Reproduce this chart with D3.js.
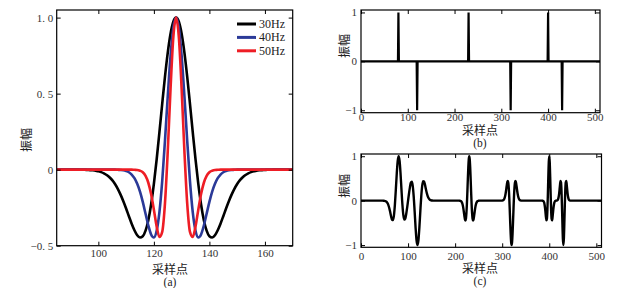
<!DOCTYPE html>
<html>
<head>
<meta charset="utf-8">
<script src="https://cdn.jsdelivr.net/npm/d3@7"></script>
<style>
  body { margin: 0; background: #fff; }
  text { font-family: "Liberation Serif", "Times New Roman", serif; }
  .cjk { font-family: "Noto Sans CJK SC", sans-serif; }
</style>
</head>
<body>
<div id="chart-container"></div>
<script>
// panel (a): wavelets, sample index 85..170
const waveSamples = d3.range(85, 171);
const wave30 = [0, 0, 0, 0, 0, 0, 0, 0, 0,
    -0.001, -0.001, -0.002, -0.003, -0.004, -0.007, -0.010, -0.016, -0.024, -0.035,
    -0.050, -0.069, -0.094, -0.126, -0.164, -0.207, -0.255, -0.306, -0.355, -0.398,
    -0.431, -0.446, -0.438, -0.401, -0.332, -0.229, -0.094, 0.067, 0.247, 0.433,
    0.612, 0.770, 0.894, 0.973, 1.000, 0.973, 0.894, 0.770, 0.612, 0.433,
    0.247, 0.067, -0.094, -0.229, -0.332, -0.401, -0.438, -0.446, -0.431, -0.398,
    -0.355, -0.306, -0.255, -0.207, -0.164, -0.126, -0.094, -0.069, -0.050, -0.035,
    -0.024, -0.016, -0.010, -0.007, -0.004, -0.003, -0.002, -0.001, -0.001,
    0, 0, 0, 0, 0, 0, 0, 0];
const wave40 = [0, 0, 0, 0, 0, 0, 0, 0, 0, 0, 0, 0, 0, 0, 0, 0, 0, 0, 0, 0, 0, 0,
    -0.001, -0.002, -0.004, -0.009, -0.017, -0.032, -0.056, -0.093, -0.145, -0.212,
    -0.290, -0.367, -0.426, -0.446, -0.402, -0.279, -0.075, 0.192, 0.483, 0.748,
    0.933, 1.000, 0.933, 0.748, 0.483, 0.192, -0.075, -0.279, -0.402, -0.446,
    -0.426, -0.367, -0.290, -0.212, -0.145, -0.093, -0.056, -0.032, -0.017, -0.009,
    -0.004, -0.002, -0.001,
    0, 0, 0, 0, 0, 0, 0, 0, 0, 0, 0, 0, 0, 0, 0, 0, 0, 0, 0, 0, 0];
const wave50 = [0, 0, 0, 0, 0, 0, 0, 0, 0, 0, 0, 0, 0, 0, 0, 0, 0, 0, 0, 0, 0, 0, 0, 0, 0, 0, 0, 0,
    -0.001, -0.002, -0.007, -0.017, -0.041, -0.086, -0.160, -0.263, -0.373, -0.443,
    -0.409, -0.220, 0.121, 0.531, 0.869, 1.000, 0.869, 0.531, 0.121, -0.220,
    -0.409, -0.443, -0.373, -0.263, -0.160, -0.086, -0.041, -0.017, -0.007, -0.002,
    -0.001,
    0, 0, 0, 0, 0, 0, 0, 0, 0, 0, 0, 0, 0, 0, 0, 0, 0, 0, 0, 0, 0, 0, 0, 0, 0, 0, 0];
const waveNames = ['30Hz', '40Hz', '50Hz'];
const waveColors = ['#000000', '#2b3a98', '#ee1d25'];

// panel (b): reflectivity spikes
const spikeSamples = [80, 120, 230, 320, 400, 430];
const spikeValues = [1, -1, 1, -1, 1, -1];

// panel (c): synthetic trace [sample, amplitude]
const tracePoints = [
    [0, 0], [46, 0], [48, -0.002], [50, -0.004], [52, -0.010], [54, -0.024], [56, -0.050],
    [58, -0.094], [60, -0.164], [62, -0.255], [64, -0.355], [66, -0.431], [68, -0.438],
    [70, -0.332], [72, -0.094], [74, 0.247], [76, 0.612], [78, 0.894], [80, 1.000],
    [82, 0.894], [84, 0.612], [86, 0.248], [88, -0.092], [90, -0.328], [92, -0.428],
    [94, -0.407], [96, -0.305], [98, -0.161], [100, 0], [102, 0.161], [104, 0.305],
    [106, 0.407], [108, 0.428], [110, 0.328], [112, 0.092], [114, -0.247], [116, -0.612],
    [118, -0.894], [120, -1.000], [122, -0.894], [124, -0.612], [126, -0.247], [128, 0.094],
    [130, 0.332], [132, 0.438], [134, 0.431], [136, 0.355], [138, 0.255], [140, 0.164],
    [142, 0.094], [144, 0.050], [146, 0.024], [148, 0.010], [150, 0.004], [152, 0.002],
    [154, 0],
    [208, 0], [210, -0.002], [211, -0.004], [212, -0.009], [213, -0.017], [214, -0.032],
    [215, -0.056], [216, -0.093], [217, -0.145], [218, -0.212], [219, -0.290], [220, -0.367],
    [221, -0.426], [222, -0.446], [223, -0.402], [224, -0.279], [225, -0.075], [226, 0.192],
    [227, 0.483], [228, 0.748], [229, 0.933], [230, 1.000], [231, 0.933], [232, 0.748],
    [233, 0.483], [234, 0.192], [235, -0.075], [236, -0.279], [237, -0.402], [238, -0.446],
    [239, -0.426], [240, -0.367], [241, -0.290], [242, -0.212], [243, -0.145], [244, -0.093],
    [245, -0.056], [246, -0.032], [247, -0.017], [248, -0.009], [249, -0.004], [250, -0.002],
    [252, 0],
    [298, 0], [300, 0.002], [301, 0.004], [302, 0.009], [303, 0.017], [304, 0.032],
    [305, 0.056], [306, 0.093], [307, 0.145], [308, 0.212], [309, 0.290], [310, 0.367],
    [311, 0.426], [312, 0.446], [313, 0.402], [314, 0.279], [315, 0.075], [316, -0.192],
    [317, -0.483], [318, -0.748], [319, -0.933], [320, -1.000], [321, -0.933], [322, -0.748],
    [323, -0.483], [324, -0.192], [325, 0.075], [326, 0.279], [327, 0.402], [328, 0.446],
    [329, 0.426], [330, 0.367], [331, 0.290], [332, 0.212], [333, 0.145], [334, 0.093],
    [335, 0.056], [336, 0.032], [337, 0.017], [338, 0.009], [339, 0.004], [340, 0.002],
    [342, 0],
    [384, 0], [385, -0.001], [386, -0.002], [387, -0.007], [388, -0.017], [389, -0.041],
    [390, -0.086], [391, -0.160], [392, -0.263], [393, -0.373], [394, -0.443], [395, -0.409],
    [396, -0.220], [397, 0.121], [398, 0.531], [399, 0.869], [400, 1.000], [401, 0.869],
    [402, 0.531], [403, 0.121], [404, -0.220], [405, -0.409], [406, -0.443], [407, -0.373],
    [408, -0.263], [409, -0.160], [410, -0.086], [411, -0.041], [412, -0.017], [413, -0.007],
    [414, -0.002], [415, 0], [416, 0.002], [417, 0.007], [418, 0.017], [419, 0.041],
    [420, 0.086], [421, 0.160], [422, 0.263], [423, 0.373], [424, 0.443], [425, 0.409],
    [426, 0.220], [427, -0.121], [428, -0.531], [429, -0.869], [430, -1.000], [431, -0.869],
    [432, -0.531], [433, -0.121], [434, 0.220], [435, 0.409], [436, 0.443], [437, 0.373],
    [438, 0.263], [439, 0.160], [440, 0.086], [441, 0.041], [442, 0.017], [443, 0.007],
    [444, 0.002], [445, 0.001], [446, 0], [511, 0]
];

const xTicksA = [100, 120, 140, 160];
const yTicksA = [-0.5, 0, 0.5, 1.0];
const xTicksBC = [0, 100, 200, 300, 400, 500];
const yTicksBC = [-1, 0, 1];

function createFigure(elementId) {
    const width = 623;
    const height = 288;

    const svg = d3.select(elementId).append('svg')
        .attr('width', width)
        .attr('height', height);

    svg.append('rect').attr('width', width).attr('height', height).attr('fill', '#ffffff');

    const fmtA = d => d === 0 ? '0' : d3.format('.1f')(d).replace('-', '\u2212').replace('.', '. ');
    const fmtBC = d => d3.format('d')(d).replace('-', '\u2212');

    // draws framed axes with inward ticks on all four sides
    function makePanel(box, xDomain, yDomain, xTicks, yTicks, yFmt, pads) {
        const x = d3.scaleLinear().domain(xDomain).range([box.left, box.right]);
        const y = d3.scaleLinear().domain(yDomain).range([box.bottom, box.top]);
        const g = svg.append('g');

        const clipId = 'clip' + Math.round(box.left) + Math.round(box.top);
        svg.append('clipPath').attr('id', clipId)
            .append('rect')
            .attr('x', box.left).attr('y', box.top)
            .attr('width', box.right - box.left).attr('height', box.bottom - box.top);

        const plot = g.append('g').attr('clip-path', `url(#${clipId})`);

        const axes = [
            [d3.axisBottom(x).tickValues(xTicks).tickFormat(d3.format('d')), `translate(0,${box.bottom})`, pads[0]],
            [d3.axisTop(x).tickValues(xTicks).tickFormat(''), `translate(0,${box.top})`, 0],
            [d3.axisLeft(y).tickValues(yTicks).tickFormat(yFmt), `translate(${box.left},0)`, pads[1]],
            [d3.axisRight(y).tickValues(yTicks).tickFormat(''), `translate(${box.right},0)`, 0]
        ];
        axes.forEach(([axis, tr, pad]) => {
            const a = g.append('g')
                .attr('transform', tr)
                .call(axis.tickSizeInner(-4).tickSizeOuter(0).tickPadding(pad));
            a.select('.domain').remove();
            a.selectAll('line').attr('stroke', '#000').attr('stroke-width', 1);
            a.selectAll('text')
                .attr('fill', '#333')
                .style('font-size', '11px')
                .style('font-family', '"Liberation Serif", serif');
        });

        g.append('rect')
            .attr('x', box.left).attr('y', box.top)
            .attr('width', box.right - box.left).attr('height', box.bottom - box.top)
            .attr('fill', 'none')
            .attr('stroke', '#000')
            .attr('stroke-width', 1.2);

        return { x, y, plot, g };
    }

    function addLabels(xLab, yLab, tag) {
        svg.append('text')
            .attr('class', 'cjk')
            .attr('x', xLab[0]).attr('y', xLab[1])
            .attr('text-anchor', 'middle')
            .attr('dominant-baseline', 'central')
            .attr('fill', '#222')
            .style('font-size', '12px')
            .text('采样点');
        svg.append('text')
            .attr('x', xLab[0]).attr('y', xLab[2])
            .attr('text-anchor', 'middle')
            .attr('dominant-baseline', 'central')
            .attr('fill', '#222')
            .style('font-size', '11.5px')
            .text(tag);
        svg.append('text')
            .attr('class', 'cjk')
            .attr('transform', `translate(${yLab[0]},${yLab[1]}) rotate(-90)`)
            .attr('text-anchor', 'middle')
            .attr('dominant-baseline', 'central')
            .attr('fill', '#222')
            .style('font-size', '12px')
            .text('振幅');
    }

    // ---- panel (a)
    const pa = makePanel({ left: 56.7, right: 292.7, top: 10, bottom: 245.7 },
        [85, 170], [-0.5, 1.05], xTicksA, yTicksA, fmtA, [4, 3.5]);

    const waveLine = d3.line()
        .x((d, i) => pa.x(waveSamples[i]))
        .y(d => pa.y(d))
        .curve(d3.curveMonotoneX);

    [wave30, wave40, wave50].forEach((series, k) => {
        pa.plot.append('path')
            .datum(series)
            .attr('d', waveLine)
            .attr('fill', 'none')
            .attr('stroke', waveColors[k])
            .attr('stroke-width', 2.6)
            .attr('stroke-linejoin', 'round');
    });

    const legend = svg.append('g').attr('transform', 'translate(237,24)');
    const legendItem = legend.selectAll('.legend-item')
        .data(waveNames)
        .enter().append('g')
        .attr('class', 'legend-item')
        .attr('transform', (_, i) => `translate(0, ${i * 13.4})`);
    legendItem.append('line')
        .attr('x1', 0).attr('x2', 19)
        .attr('stroke', (_, i) => waveColors[i])
        .attr('stroke-width', 3);
    legendItem.append('text')
        .attr('x', 22)
        .attr('dominant-baseline', 'central')
        .attr('fill', '#222')
        .style('font-size', '12px')
        .text(d => d);

    addLabels([170, 268, 281.5], [25, 140], '(a)');

    // ---- panel (b)
    const pb = makePanel({ left: 361, right: 600, top: 10, bottom: 112.7 },
        [0, 511], [-1.05, 1.05], xTicksBC, yTicksBC, fmtBC, [0.5, 4]);

    const spikePts = [[0, 0]];
    spikeSamples.forEach((s, i) => {
        spikePts.push([s - 1, 0], [s, spikeValues[i]], [s + 1, 0]);
    });
    spikePts.push([511, 0]);

    pb.plot.append('path')
        .datum(spikePts)
        .attr('d', d3.line().x(d => pb.x(d[0])).y(d => pb.y(d[1])))
        .attr('fill', 'none')
        .attr('stroke', '#000')
        .attr('stroke-width', 2.2);

    addLabels([480, 129.5, 143], [343, 46], '(b)');

    // ---- panel (c)
    const pc = makePanel({ left: 361, right: 601.5, top: 154, bottom: 247.3 },
        [0, 511], [-1.05, 1.05], xTicksBC, yTicksBC, fmtBC, [5, 4]);

    pc.plot.append('path')
        .datum(tracePoints)
        .attr('d', d3.line().x(d => pc.x(d[0])).y(d => pc.y(d[1])).curve(d3.curveMonotoneX))
        .attr('fill', 'none')
        .attr('stroke', '#000')
        .attr('stroke-width', 2.4)
        .attr('stroke-linejoin', 'round');

    addLabels([480, 267.5, 281], [343, 186], '(c)');
}

createFigure('#chart-container');
</script>
</body>
</html>
